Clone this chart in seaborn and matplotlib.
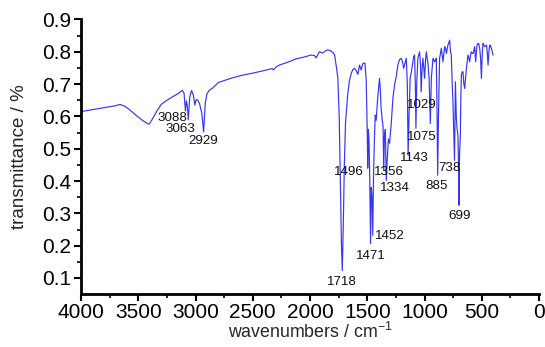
import matplotlib
matplotlib.use("Agg")
import matplotlib.pyplot as plt
import seaborn as sns
import pandas as pd
from matplotlib.ticker import MultipleLocator

# ---- data ----
wavenumber = [
    4000, 3950, 3900, 3850, 3800, 3750, 3700, 3660, 3620, 3580, 3540, 3500, 3460, 3420, 3405,
    3380, 3340, 3300, 3250, 3200, 3150, 3115, 3100, 3088, 3080, 3072, 3063, 3050, 3035, 3020,
    3005, 2995, 2980, 2965, 2945, 2929, 2915, 2900, 2880, 2850, 2800, 2700, 2600, 2500, 2400,
    2355, 2330, 2320, 2300, 2268, 2200, 2122, 2050, 1990, 1960, 1947, 1930, 1918, 1900, 1889,
    1870, 1845, 1820, 1800, 1785, 1770, 1757, 1745, 1735, 1725, 1718, 1710, 1700, 1690, 1670,
    1655, 1640, 1626, 1612, 1597, 1582, 1568, 1553, 1539, 1520, 1509, 1500, 1496, 1490, 1484,
    1478, 1471, 1465, 1458, 1452, 1445, 1437, 1430, 1422, 1408, 1393, 1385, 1380, 1375, 1369,
    1362, 1356, 1350, 1342, 1334, 1325, 1315, 1305, 1290, 1275, 1260, 1247, 1232, 1218, 1203,
    1189, 1182, 1174, 1159, 1150, 1143, 1135, 1125, 1116, 1105, 1095, 1087, 1080, 1075, 1068,
    1058, 1043, 1035, 1029, 1022, 1014, 1006, 999, 990, 984, 977, 970, 960, 949, 940,
    926, 912, 905, 897, 890, 885, 878, 868, 853, 846, 839, 832, 824, 816, 809,
    795, 788, 780, 773, 766, 758, 751, 745, 738, 733, 730, 726, 722, 715, 708,
    703, 699, 694, 687, 683, 678, 671, 664, 656, 649, 641, 634, 627, 620, 612,
    605, 598, 591, 583, 576, 569, 562, 553, 547, 541, 534, 527, 518, 510, 503,
    496, 489, 481, 474, 466, 459, 452, 445, 438, 430, 423, 416, 408, 401,
]
transmittance = [
    0.615, 0.618, 0.621, 0.624, 0.627, 0.630, 0.633, 0.637, 0.632, 0.622, 0.610, 0.598, 0.587, 0.578, 0.576,
    0.590, 0.615, 0.637, 0.650, 0.661, 0.671, 0.681, 0.672, 0.617, 0.648, 0.635, 0.590, 0.660, 0.680, 0.668,
    0.635, 0.652, 0.650, 0.640, 0.610, 0.552, 0.640, 0.670, 0.681, 0.688, 0.705, 0.717, 0.727, 0.734, 0.742,
    0.746, 0.748, 0.744, 0.752, 0.759, 0.767, 0.778, 0.784, 0.790, 0.788, 0.781, 0.792, 0.800, 0.798, 0.796,
    0.802, 0.806, 0.803, 0.798, 0.790, 0.754, 0.720, 0.600, 0.400, 0.200, 0.123, 0.250, 0.450, 0.580, 0.670,
    0.712, 0.733, 0.745, 0.749, 0.742, 0.730, 0.759, 0.744, 0.764, 0.765, 0.712, 0.550, 0.440, 0.560, 0.520,
    0.400, 0.206, 0.380, 0.350, 0.232, 0.420, 0.537, 0.604, 0.588, 0.660, 0.718, 0.680, 0.630, 0.610, 0.588,
    0.570, 0.433, 0.540, 0.560, 0.402, 0.470, 0.530, 0.517, 0.580, 0.660, 0.700, 0.723, 0.760, 0.776, 0.780,
    0.765, 0.749, 0.760, 0.780, 0.700, 0.480, 0.600, 0.720, 0.735, 0.760, 0.785, 0.790, 0.700, 0.563, 0.700,
    0.780, 0.800, 0.760, 0.676, 0.740, 0.780, 0.750, 0.718, 0.780, 0.800, 0.780, 0.764, 0.720, 0.578, 0.720,
    0.780, 0.769, 0.775, 0.780, 0.600, 0.418, 0.600, 0.780, 0.811, 0.790, 0.769, 0.790, 0.816, 0.810, 0.795,
    0.821, 0.828, 0.836, 0.800, 0.790, 0.700, 0.640, 0.560, 0.464, 0.600, 0.707, 0.650, 0.594, 0.560, 0.542,
    0.450, 0.325, 0.480, 0.542, 0.650, 0.728, 0.738, 0.738, 0.700, 0.687, 0.720, 0.749, 0.770, 0.790, 0.780,
    0.769, 0.790, 0.800, 0.795, 0.795, 0.805, 0.816, 0.769, 0.800, 0.821, 0.826, 0.826, 0.811, 0.780, 0.718,
    0.790, 0.826, 0.820, 0.816, 0.818, 0.821, 0.800, 0.759, 0.800, 0.821, 0.818, 0.811, 0.800, 0.790,
]

# labelled peaks (wavenumber of the labelled band)
peak_labels = [3088, 3063, 2929, 1718, 1496, 1471, 1452, 1356, 1334, 1143, 1075, 1029, 885, 738, 699]

x_ticks = [4000, 3500, 3000, 2500, 2000, 1500, 1000, 500, 0]
y_ticks = [0.1, 0.2, 0.3, 0.4, 0.5, 0.6, 0.7, 0.8, 0.9]

# label placement (pixel offsets from the band minimum) - styling only
label_offsets = {
    3088: (-13, -7), 3063: (-8, -9), 2929: (0, -9), 1718: (0, -11), 1496: (-19, -4),
    1471: (0, -12), 1452: (17, -1), 1356: (5, -2), 1334: (9, -8), 1143: (6, -3),
    1075: (6, -9), 1029: (1, -13), 885: (-1, -11), 738: (-5, -8), 699: (1, -11),
}

sns.set_style("ticks")
plt.rcParams["font.family"] = ["Liberation Sans", "DejaVu Sans"]
plt.rcParams["mathtext.default"] = "regular"

df = pd.DataFrame({"wn": wavenumber, "T": transmittance})

fig = plt.figure(figsize=(5.45, 3.47), dpi=100)
ax = fig.add_axes([81 / 545, 1 - 293.5 / 347, (539 - 81) / 545, (293.5 - 19.5) / 347])

sns.lineplot(data=df, x="wn", y="T", ax=ax, sort=False, color="#3535f2", lw=0.85, estimator=None)

lookup = dict(zip(wavenumber, transmittance))
for p in peak_labels:
    dx, dy = label_offsets[p]
    ax.annotate(str(p), xy=(p, lookup[p]), xytext=(dx, dy), textcoords="offset pixels",
                ha="center", va="center", fontsize=9.6, color="#111111")

ax.set_xlim(4000, 0)
ax.set_ylim(0.052, 0.9)
ax.set_xticks(x_ticks)
ax.set_xticklabels([str(v) for v in x_ticks])
ax.set_yticks(y_ticks)
ax.set_yticklabels([f"{v:.1f}" for v in y_ticks])
ax.xaxis.set_minor_locator(MultipleLocator(250))
ax.yaxis.set_minor_locator(MultipleLocator(0.05))

ax.tick_params(axis="both", which="major", direction="out", length=5, width=1.5,
               labelsize=15, color="black", labelcolor="black", pad=2)
ax.tick_params(axis="both", which="minor", direction="out", length=3, width=1.2, color="black")

for s in ["left", "bottom"]:
    ax.spines[s].set_linewidth(2)
    ax.spines[s].set_color("black")
sns.despine(ax=ax)

ax.set_xlabel(r"wavenumbers / cm$^{-1}$", fontsize=12.8, labelpad=0)
ax.set_ylabel("transmittance / %", fontsize=13.5, labelpad=10)

fig.savefig("out.png", dpi=100, facecolor="white")
